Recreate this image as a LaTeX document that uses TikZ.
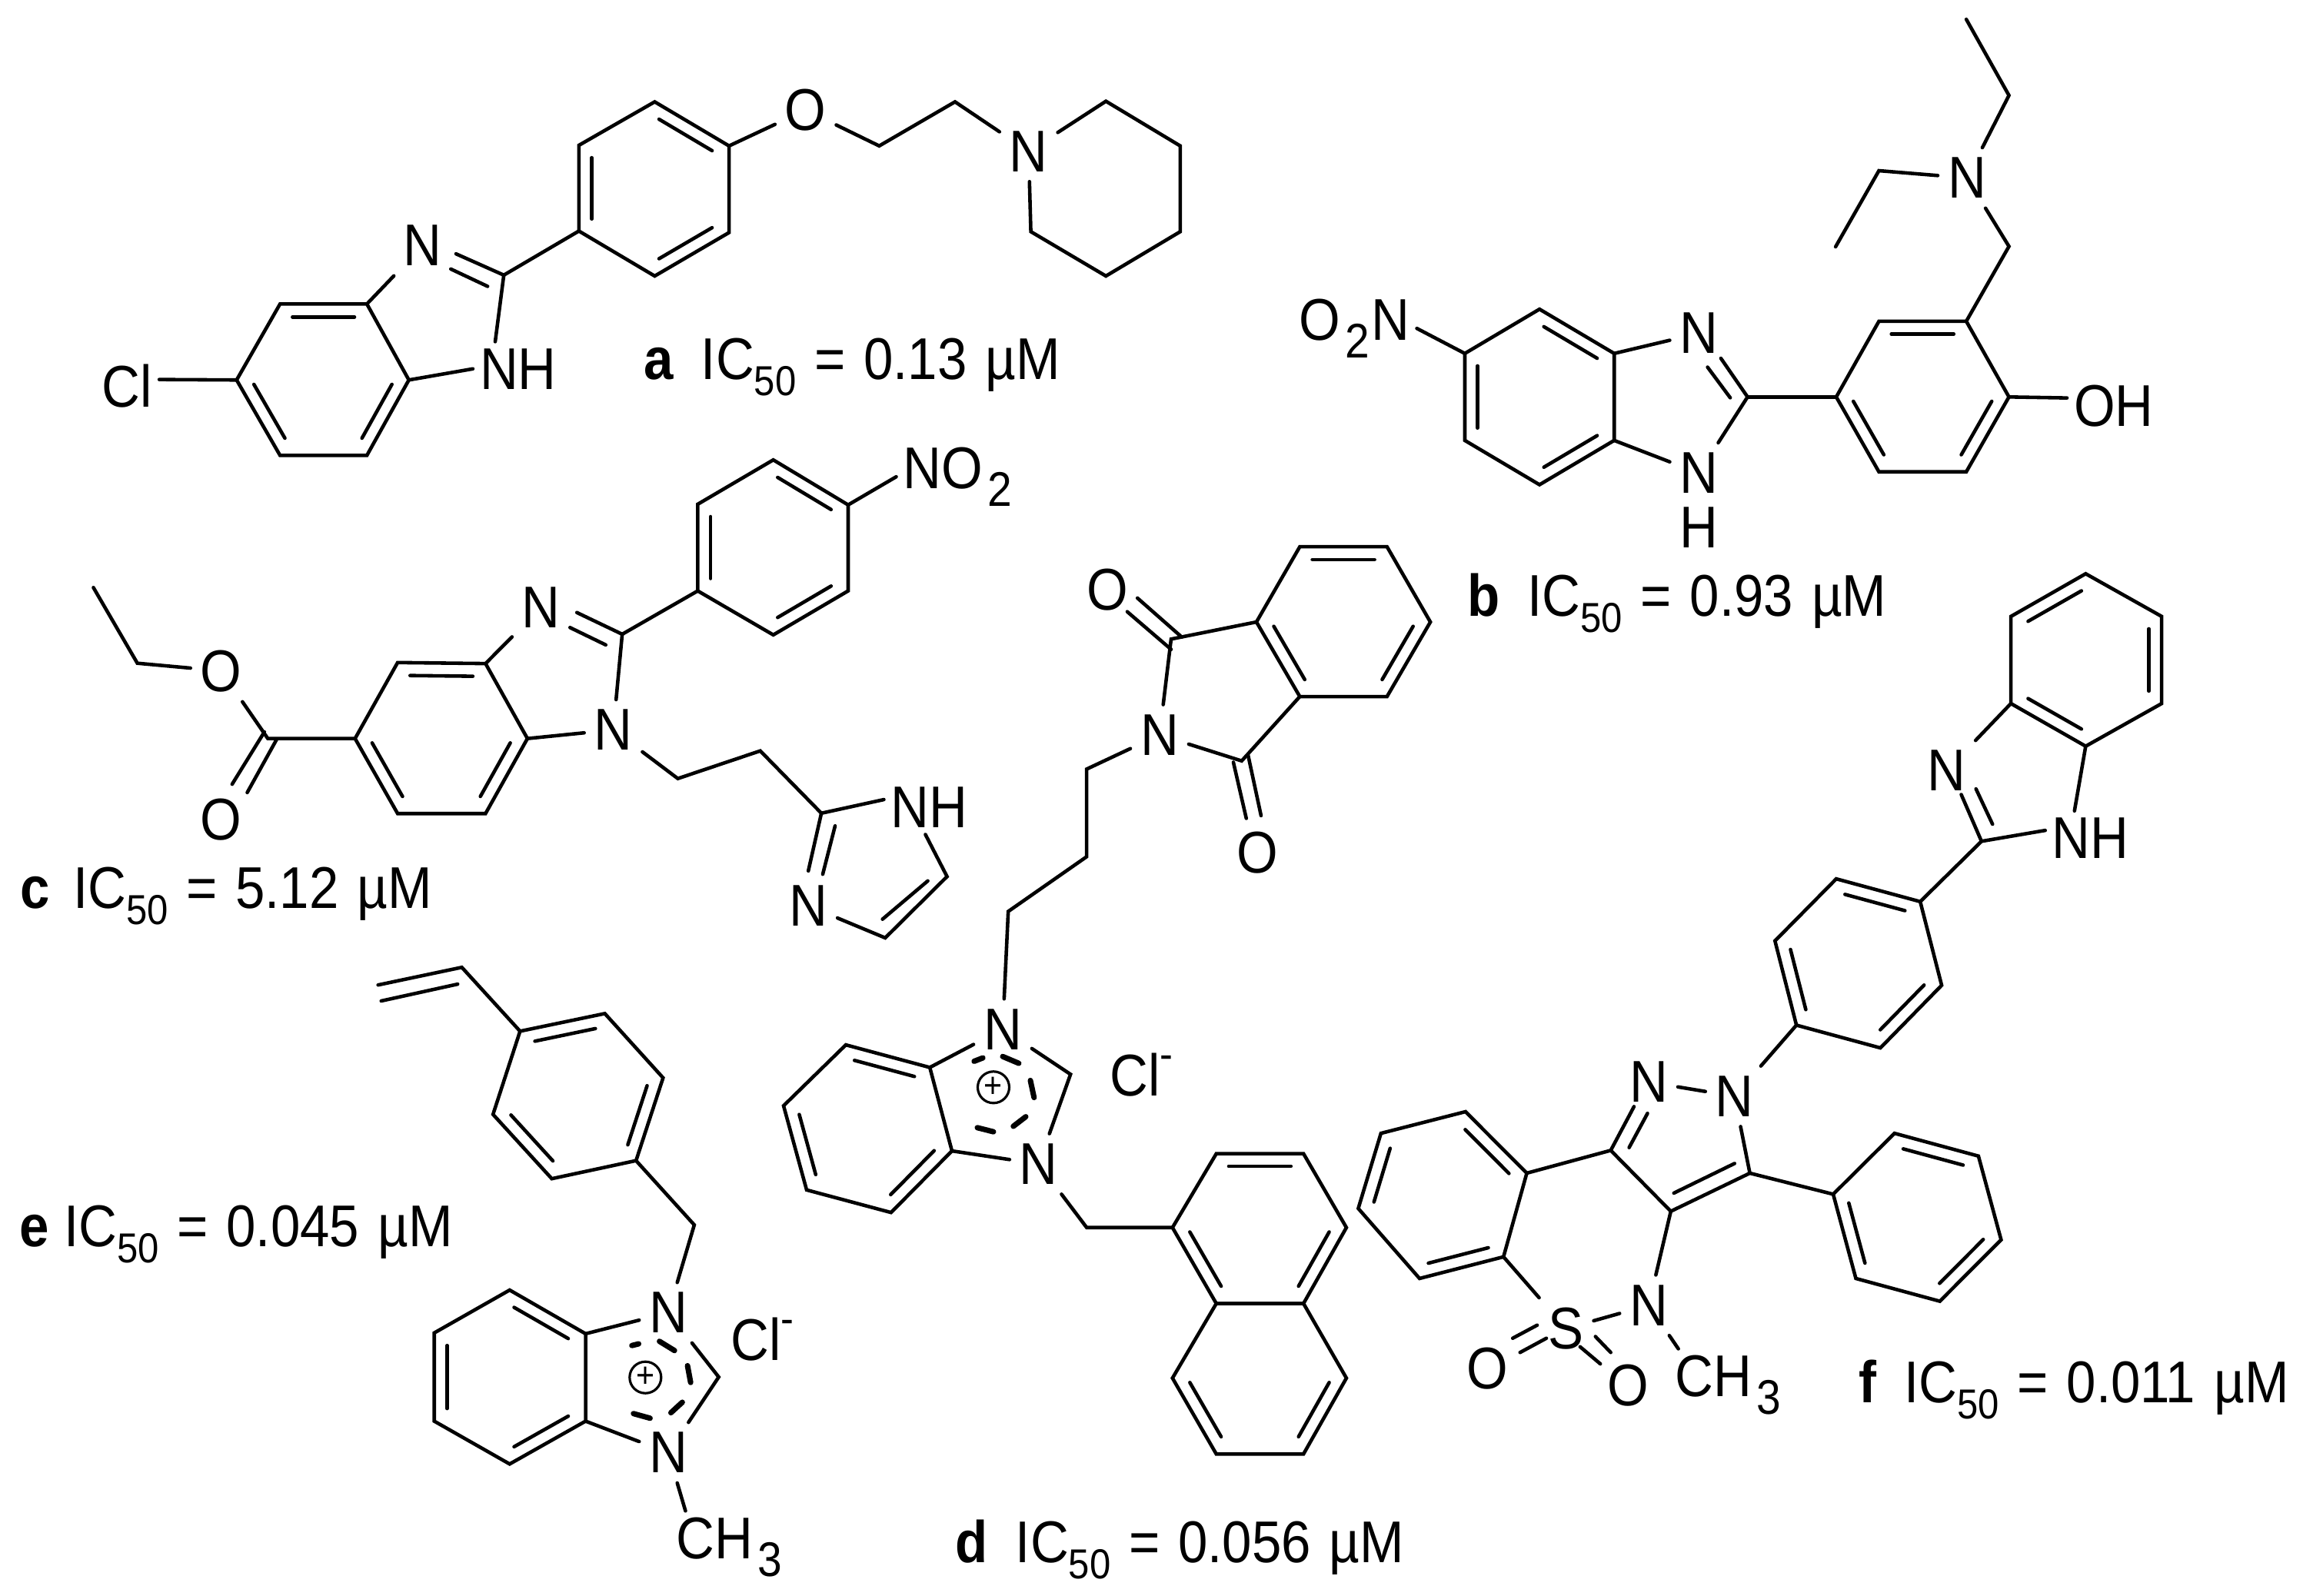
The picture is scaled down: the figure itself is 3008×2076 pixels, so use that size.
\documentclass[tikz,border=0pt]{standalone}
\usepackage{fontspec}
\setmainfont{Liberation Sans}[FakeStretch=0.9]
\usetikzlibrary{calc}
\newcommand\atm[2]{\coordinate (#1) at (#2);}
\newcommand\ring[8]{\coordinate (#11) at (#2);\coordinate (#12) at (#3);\coordinate (#13) at (#4);\coordinate (#14) at (#5);\coordinate (#15) at (#6);\coordinate (#16) at (#7);\coordinate (#1C) at (#8);\draw[bond] (#11)--(#12)--(#13)--(#14)--(#15)--(#16)--cycle;}
\newcommand\inb[3]{\draw[bond] ($(#1)!.07!(#2)!.17!(#3)$) -- ($(#2)!.07!(#1)!.17!(#3)$);}
\newcommand\subtxt[1]{\raisebox{-6pt}{\fontsize{15.5pt}{15.5pt}\selectfont #1}}
\newcommand\atsub[1]{\hspace{.06cm}\raisebox{-6.5pt}{\fontsize{18pt}{18pt}\selectfont #1}\hspace{.03cm}}
\newcommand\supm{\raisebox{10pt}{\fontsize{16pt}{16pt}\selectfont -}}
\newcommand\ictxt[3]{\textbf{#1}\hspace{#2}IC\subtxt{50}\hspace{.045cm} = \hspace{.045cm}#3 \hspace{.05cm}µM}
\tikzset{
 bond/.style={line width=1.3pt,line cap=round,line join=miter},
 chg/.style={line width=2pt,line cap=round},
 atom/.style={inner sep=.13cm,outer sep=0pt},
 lab/.style={anchor=base west,inner sep=0pt,outer sep=0pt},
 plusmark/.style={draw,circle,line width=.9pt,minimum size=.41cm,inner sep=0pt,font=\fontsize{13pt}{13pt}\selectfont}
}
\begin{document}
\begin{tikzpicture}[x=.01cm,y=-.01cm,every node/.append style={font=\fontsize{21.8pt}{24pt}\selectfont}]
\useasboundingbox (0,0) rectangle (3008,2076);
% ---------- a
\begin{scope}[shift={(100,0)},x=.009566cm,y=-.003954cm]
\ring{aa}{785,335}{886,480}{886,765}{785,908}{682,760}{682,478}{785,622}
\inb{aa1}{aa2}{aaC}\inb{aa3}{aa4}{aaC}\inb{aa5}{aa6}{aaC}
\ring{ab}{394,1000}{276,1000}{217,1250}{276,1498}{394,1498}{451,1250}{335,1250}
\inb{ab1}{ab2}{abC}\inb{ab3}{ab4}{abC}\inb{ab5}{ab6}{abC}
\node[atom] (aO) at (990,362) {O};
\node[atom] (aN) at (1293,498) {N};
\node[atom] (aN2) at (470,808) {N};
\node[atom,lab,inner sep=.09cm] (aNH) at (538,1280) {NH};
\node[atom,lab,inner sep=.09cm] (aCl) at (25,1338) {Cl};
\atm{ac1}{1090,480}\atm{ac2}{1193,335}
\atm{ap1}{1296,762}\atm{ap2}{1398,908}\atm{ap3}{1499,762}\atm{ap4}{1499,480}\atm{ap5}{1398,333}
\atm{aC2}{580,905}
\draw[bond] (aa2)--(aO);
\draw[bond] (aO)--(ac1)--(ac2)--(aN);
\draw[bond] (aN)--(ap1)--(ap2)--(ap3)--(ap4)--(ap5)--(aN);
\draw[bond] (aa5)--(aC2);
\draw[bond] (aC2)--(515,835);\draw[bond] (558,942)--(508,885);
\draw[bond] (aN2)--(ab1);
\draw[bond] (aC2)--([xshift=.29cm]aNH.north west);
\draw[bond] (ab6)--(aNH.west);
\draw[bond] ([yshift=.08cm]aCl.east)--(ab3);
\node[lab] (alab) at (770,1248) {\ictxt{a}{.36cm}{0.13}};
\end{scope}
% ---------- b
\begin{scope}[shift={(1650,0)},x=.008661cm,y=-.00523cm]
\ring{ba}{406,768}{518,878}{518,1094}{406,1204}{294,1094}{294,878}{406,986}
\inb{ba1}{ba2}{baC}\inb{ba3}{ba4}{baC}\inb{ba5}{ba6}{baC}
\ring{bb}{851,986}{915,798}{1046,798}{1110,986}{1046,1172}{915,1172}{980,986}
\inb{bb2}{bb3}{bbC}\inb{bb1}{bb6}{bbC}\inb{bb4}{bb5}{bbC}
\node[atom,lab,inner sep=.09cm] (bO2N) at (35,845) {O\atsub{2}N};
\node[atom] (bN1) at (645,828) {N};
\node[atom] (bN3) at (645,1175) {N};
\node[atom] (bH) at (645,1310) {H};
\node[atom,lab,inner sep=.09cm] (bOH) at (1197,1058) {OH};
\node[atom] (bN) at (1047,442) {N};
\atm{bC2}{718,986}
\atm{bc1}{1110,612}\atm{bc2}{1110,237}\atm{bc3}{1046,48}\atm{bc4}{915,424}\atm{bc5}{850,613}
\draw[bond] (bO2N.east)--(ba6);
\draw[bond] (ba2)--(bN1);\draw[bond] (ba3)--(bN3);
\draw[bond] (bC2)--(678,890);\draw[bond] (692,988)--(658,912);
\draw[bond] (bC2)--(bN3);
\draw[bond] (bC2)--(bb1);
\draw[bond] (bb4)--([yshift=.1cm]bOH.west);
\draw[bond] (bb3)--(bc1)--(bN);
\draw[bond] (bN)--(bc2)--(bc3);
\draw[bond] (bN)--(bc4)--(bc5);
\node[lab] (blab) at (298,1530) {\ictxt{b}{.36cm}{0.93}};
\end{scope}
% ---------- c
\begin{scope}[shift={(0,580)},x=.008929cm,y=-.004337cm]
\ring{ca}{1126,42}{1235,177}{1235,435}{1126,567}{1016,435}{1016,175}{1126,305}
\inb{ca1}{ca2}{caC}\inb{ca3}{ca4}{caC}\inb{ca5}{ca6}{caC}
\ring{cb}{707,653}{579,650}{517,878}{579,1103}{707,1103}{768,878}{642,878}
\inb{cb1}{cb2}{cbC}\inb{cb3}{cb4}{cbC}\inb{cb5}{cb6}{cbC}
\node[atom,lab,inner sep=.09cm] (cNO2) at (1305,128) {NO\atsub{2}};
\node[atom] (cN3) at (788,485) {N};
\node[atom] (cN1) at (893,852) {N};
\node[atom,lab,inner sep=.09cm] (cNH) at (1287,1145) {NH};
\node[atom] (cN4) at (1177,1380) {N};
\node[atom] (cO1) at (322,675) {O};
\node[atom] (cO2) at (322,1122) {O};
\atm{cC2}{906,565}\atm{cc1}{987,998}\atm{cc2}{1107,915}\atm{ci1}{1196,1102}\atm{ci2}{1379,1292}\atm{ci3}{1289,1476}
\atm{cE}{390,878}\atm{ce1}{200,652}\atm{ce2}{136,425}
\draw[bond] (ca2)--(cNO2.west);
\draw[bond] (ca5)--(cC2);
\draw[bond] (cC2)--(840,500);\draw[bond] (882,597)--(830,545);
\draw[bond] (cN3)--(cb1);
\draw[bond] (cC2)--(cN1);
\draw[bond] (cb6)--(cN1);
\draw[bond] (cN1)--(cc1)--(cc2)--(ci1);
\draw[bond] (ci1)--([yshift=.1cm]cNH.west);
\draw[bond] ([xshift=.54cm]cNH.south west)--(ci2)--(ci3)--(cN4);
\draw[bond] (ci1)--(1177,1275);\draw[bond] (1216,1140)--(1198,1285);
\draw[bond] (1351,1305)--(1285,1420);
\draw[bond] (cb3)--(cE)--(cO1);
\draw[bond] (cO1)--(ce1)--(ce2);
\draw[bond] (385,858)--(338,1015);\draw[bond] (403,880)--(360,1040);
\node[lab] (clab) at (30,1388) {\ictxt{c}{.3cm}{5.12}};
\end{scope}
% ---------- d
\begin{scope}[shift={(980,680)},x=.005995cm,y=-.008903cm]
\ring{da}{1184,35}{1373,35}{1467,145}{1373,254}{1184,254}{1090,145}{1279,145}
\inb{da1}{da2}{daC}\inb{da3}{da4}{daC}\inb{da5}{da6}{daC}
\ring{db}{382,796}{200,763}{65,852}{115,975}{298,1008}{430,918}{248,885}
\inb{db1}{db2}{dbC}\inb{db3}{db4}{dbC}\inb{db5}{db6}{dbC}
\ring{dn}{1003,922}{1192,922}{1285,1030}{1192,1141}{1003,1141}{908,1030}{1097,1030}
\inb{dn1}{dn2}{dnC}\inb{dn3}{dn4}{dnC}\inb{dn5}{dn6}{dnC}
\ring{dm}{1003,1141}{1192,1141}{1285,1250}{1192,1361}{1003,1361}{908,1250}{1097,1250}
\inb{dm3}{dm4}{dmC}\inb{dm5}{dm6}{dmC}
\node[atom] (dO1) at (768,98) {O};
\node[atom] (dO2) at (1092,482) {O};
\node[atom] (dN) at (880,310) {N};
\node[atom] (dN1) at (540,740) {N};
\node[atom] (dN2) at (618,937) {N};
\node[plusmark] (dplus) at (520,825) {+};
\node[lab] (dCl) at (772,838) {Cl\supm};
\atm{dC1}{905,170}\atm{dC2}{1058,348}\atm{dc1}{722,360}\atm{dc2}{722,488}\atm{dc3}{552,568}\atm{dc4}{687,806}\atm{dc5}{722,1030}
\draw[bond] (da6)--(dC1)--(dN);
\draw[bond] (dN)--(dC2)--(da5);
\draw[bond] (832,110)--(928,167);\draw[bond] (810,130)--(905,185);
\draw[bond] (1040,350)--(1068,432);\draw[bond] (1072,340)--(1100,428);
\draw[bond] (dN)--(dc1)--(dc2)--(dc3)--(dN1);
\draw[bond] (db1)--(dN1);\draw[bond] (db6)--(dN2);
\draw[bond] (dN1)--(dc4)--(dN2);
\draw[bond] (dN2)--(dc5)--(dn6);
\draw[chg] (478,787)--(497,782);\draw[chg] (540,780)--(575,790);\draw[chg] (600,815)--(608,840);\draw[chg] (590,868)--(563,882);\draw[chg] (520,890)--(485,884);
\node[lab] (dlab) at (438,1520) {\ictxt{d}{.36cm}{0.056}};
\end{scope}
% ---------- e
\begin{scope}[shift={(0,1220)},x=.00676cm,y=-.005459cm]
\ring{ea}{1000,222}{1163,180}{1275,333}{1223,530}{1061,573}{948,420}{1112,376}
\inb{ea1}{ea2}{eaC}\inb{ea3}{ea4}{eaC}\inb{ea5}{ea6}{eaC}
\ring{eb}{980,838}{1126,942}{1126,1150}{980,1252}{835,1150}{835,940}{980,1045}
\inb{eb1}{eb2}{ebC}\inb{eb3}{eb4}{ebC}\inb{eb5}{eb6}{ebC}
\node[atom] (eN1) at (1285,892) {N};
\node[atom] (eN2) at (1285,1225) {N};
\node[plusmark] (eplus) at (1241,1046) {+};
\node[lab] (eCl) at (1405,1005) {Cl\supm};
\node[atom,lab,inner sep=.09cm] (eCH) at (1287,1478) {CH\atsub{3}};
\atm{ev1}{888,70}\atm{ev2}{727,112}\atm{ec1}{1335,683}\atm{ec2}{1382,1045}
\draw[bond] (ev2)--(ev1)--(ea1);
\draw[bond] (733,150)--(880,110);
\draw[bond] (ea4)--(ec1)--(eN1);
\draw[bond] (eb2)--(eN1);\draw[bond] (eb3)--(eN2);
\draw[bond] (eN1)--(ec2)--(eN2);
\draw[bond] (eN2)--([xshift=.21cm]eCH.north west);
\draw[chg] (1215,970)--(1228,966);\draw[chg] (1268,960)--(1297,982);\draw[chg] (1322,1018)--(1328,1058);\draw[chg] (1312,1105)--(1290,1130);\draw[chg] (1250,1143)--(1218,1132);
\node[lab] (elab) at (37,735) {\ictxt{e}{.2cm}{0.045}};
\end{scope}
% ---------- f
\begin{scope}[shift={(1760,730)},x=.007959cm,y=-.007398cm]
\ring{fa}{1195,22}{1319,97}{1319,250}{1195,325}{1073,250}{1073,97}{1196,173}
\inb{fa6}{fa1}{faC}\inb{fa2}{fa3}{faC}\inb{fa4}{fa5}{faC}
\ring{fb}{925,598}{788,558}{688,667}{723,815}{860,855}{960,745}{825,705}
\inb{fb1}{fb2}{fbC}\inb{fb3}{fb4}{fbC}\inb{fb5}{fb6}{fbC}
\ring{fc}{783,1112}{883,1005}{1020,1045}{1057,1192}{957,1300}{820,1260}{920,1152}
\inb{fc2}{fc3}{fcC}\inb{fc4}{fc5}{fcC}\inb{fc6}{fc1}{fcC}
\ring{fd}{283,1075}{183,967}{45,1005}{8,1137}{108,1260}{245,1222}{146,1115}
\inb{fd1}{fd2}{fdC}\inb{fd3}{fd4}{fdC}\inb{fd5}{fd6}{fdC}
\node[atom] (fN1) at (968,368) {N};
\node[atom,lab,inner sep=.09cm] (fNH) at (1129,522) {NH};
\node[atom] (fN2) at (622,940) {N};
\node[atom] (fN3) at (482,915) {N};
\node[atom] (fS) at (347,1348) {S};
\node[atom] (fN4) at (482,1307) {N};
\node[atom] (fO1) at (219,1418) {O};
\node[atom] (fO2) at (448,1448) {O};
\node[atom,lab,inner sep=.09cm] (fCH) at (514,1468) {CH\atsub{3}};
\atm{fC2}{1025,492}\atm{fC3}{420,1035}\atm{fC4}{518,1142}\atm{fC5}{647,1075}
\draw[bond] (fa5)--(fN1);
\draw[bond] (fa4)--([xshift=.38cm]fNH.north west);
\draw[bond] (fC2)--([yshift=.1cm]fNH.west);
\draw[bond] (fC2)--(992,410);\draw[bond] (1043,462)--(1016,400);
\draw[bond] (fC2)--(fb1);
\draw[bond] (fb4)--(fN2);
\draw[bond] (fN3)--(fN2);
\draw[bond] (fN2)--(fC5)--(fC4)--(fC3);
\draw[bond] (622,1058)--(523,1110);
\draw[bond] (fC3)--(458,958);\draw[bond] (450,1030)--(480,970);
\draw[bond] (fC5)--(fc1);
\draw[bond] (fC3)--(fd1);
\draw[bond] (fd6)--(fS);
\draw[bond] (fC4)--(fN4);
\draw[bond] (fS)--(fN4);
\draw[bond] (fN4)--([xshift=.13cm]fCH.north west);
\draw[bond] (260,1365)--(300,1342);\draw[bond] (272,1390)--(315,1365);
\draw[bond] (395,1362)--(420,1390);\draw[bond] (370,1380)--(403,1410);
\node[lab] (flab) at (825,1478) {\ictxt{f}{.36cm}{0.011}};
\end{scope}
\end{tikzpicture}
\end{document}
